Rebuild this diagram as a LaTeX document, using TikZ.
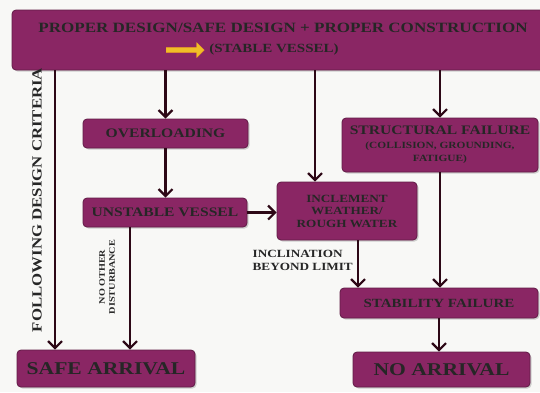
\documentclass[tikz,border=0pt]{standalone}
\usepackage{fontspec}
\setmainfont[FakeStretch=1.2]{Liberation Serif}
\usepackage{tikz}
\usetikzlibrary{arrows.meta,shapes.arrows,shadows}

\definecolor{boxpurple}{RGB}{138,38,100}
\definecolor{flowdark}{RGB}{45,8,22}
\definecolor{golden}{RGB}{240,190,40}
\definecolor{paper}{RGB}{248,248,246}

\begin{document}
\begin{tikzpicture}[x=1pt,y=-1pt]
        \tikzset{boxes/.style={draw=boxpurple!70!black, fill=boxpurple, rounded corners=4pt, line width=0.8pt,
                 drop shadow={opacity=0.35, shadow xshift=1.5pt, shadow yshift=-1.5pt},
                 text=black!85, align=center, inner sep=0pt, font=\bfseries}}
        \tikzset{flow/.style={draw=flowdark, line width=2.2pt, -{Straight Barb[length=7pt, width=14pt, line width=2.2pt]}}}
        \tikzset{labels/.style={text=black!85, font=\bfseries, inner sep=0pt}}
        \clip (0,0) rectangle (540,392);
        \fill [paper] (0,0) rectangle (540,392);
        % boxes
        \node [boxes, minimum width=532pt, minimum height=60pt] (top)    at (278,40)    {};
        \node [labels, font=\bfseries\fontsize{14.2}{16}\selectfont] (line1) at (283,28)
              {PROPER DESIGN/SAFE DESIGN + PROPER CONSTRUCTION};
        \node [labels, font=\bfseries\fontsize{12.5}{14}\selectfont] (line2) at (274,49) {(STABLE VESSEL)};
        \node [single arrow, fill=golden, draw=golden!70!orange, minimum width=15pt, minimum height=38pt,
               single arrow head extend=2.5pt, inner sep=1pt] (yarrow) at (184,50) {};
        \node [boxes, minimum width=165pt, minimum height=29pt, font=\bfseries\fontsize{13}{15}\selectfont] (over) at (165.5,133.5) {OVERLOADING};
        \node [boxes, minimum width=164pt, minimum height=29pt, font=\bfseries\fontsize{13}{15}\selectfont] (unst) at (165,212.5) {UNSTABLE VESSEL};
        \node [boxes, minimum width=140pt, minimum height=58pt, font=\bfseries\fontsize{11}{12.5}\selectfont] (incl) at (347,211)
              {INCLEMENT\\WEATHER/\\ROUGH WATER};
        \node [boxes, minimum width=196pt, minimum height=54pt, font=\bfseries\fontsize{13}{13.5}\selectfont] (strc) at (440,145)
              {STRUCTURAL FAILURE\\{\fontsize{9.5}{10.5}\selectfont (COLLISION, GROUNDING,}\\{\fontsize{9.5}{10.5}\selectfont FATIGUE)}};
        \node [boxes, minimum width=198pt, minimum height=30pt, font=\bfseries\fontsize{12.5}{14}\selectfont] (stab) at (439,303) {STABILITY FAILURE};
        \node [boxes, minimum width=178pt, minimum height=37pt, font=\bfseries\fontsize{18}{20}\selectfont] (safe) at (106,368.5) {SAFE ARRIVAL};
        \node [boxes, minimum width=177pt, minimum height=35pt, font=\bfseries\fontsize{18}{20}\selectfont] (noar) at (441.5,369.5) {NO ARRIVAL};
        % side texts
        \node [labels, rotate=90, font=\bfseries\fontsize{14}{15}\selectfont] (crit) at (37,200) {FOLLOWING DESIGN CRITERIA};
        \node [labels, rotate=90, align=center, font=\bfseries\fontsize{8.5}{10}\selectfont] (dist) at (107,277) {NO OTHER\\DISTURBANCE};
        \node [labels, anchor=east, align=left, font=\bfseries\fontsize{11}{13}\selectfont] (incn) at (353,260) {INCLINATION\\BEYOND LIMIT};
        % connectors
        \coordinate (c1) at ([xshift=-223pt]top.south);
        \coordinate (c2) at ([xshift=-32pt]incl.north);
        \coordinate (c3) at ([xshift=-35pt]unst.south);
        \coordinate (c4) at ([xshift=11pt]incl.south);
        \draw [flow] (c1) -- (c1 |- safe.north);
        \draw [flow] (top.south -| over.north) -- (over.north);
        \draw [flow] (top.south -| c2) -- (c2);
        \draw [flow] (top.south -| strc.north) -- (strc.north);
        \draw [flow] (over.south) -- (over.south |- unst.north);
        \draw [flow] (unst.east) -- (unst.east -| incl.west);
        \draw [flow] (c3) -- (c3 |- safe.north);
        \draw [flow] (c4) -- (c4 |- stab.north);
        \draw [flow] (strc.south) -- (strc.south |- stab.north);
        \draw [flow] (stab.south) -- (stab.south |- noar.north);
\end{tikzpicture}
\end{document}
